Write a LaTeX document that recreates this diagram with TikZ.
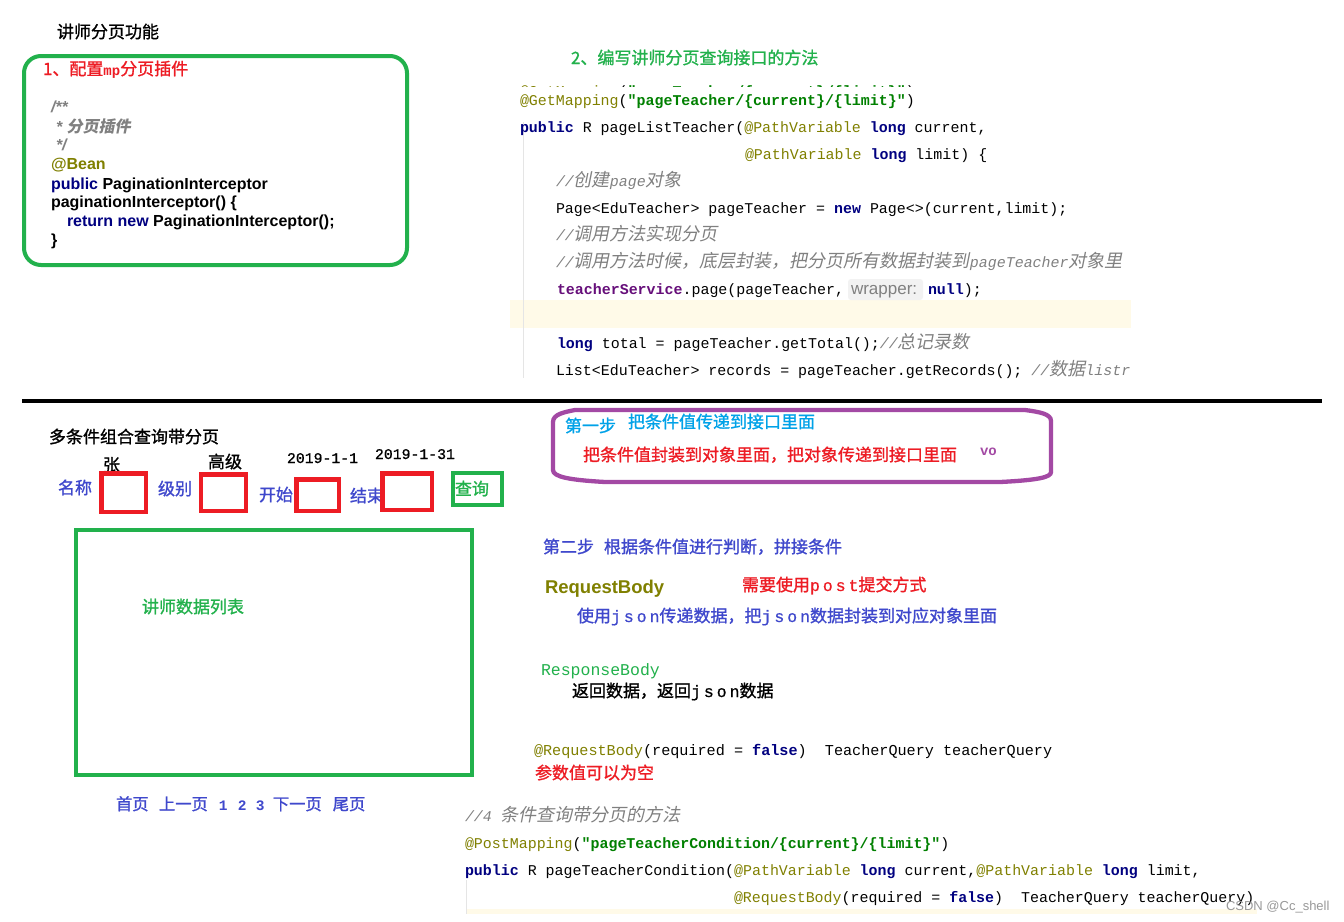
\documentclass[tikz,border=0pt]{standalone}
\usepackage{fontspec}
\setmainfont{Liberation Sans}
\setmonofont{Liberation Mono}
\newfontfamily\cj[FakeBold=1.2]{Noto Sans CJK SC}
\newfontfamily\cji[FakeSlant=0.2]{Noto Sans CJK SC}
\newfontfamily\lmf[LetterSpace=18,FakeBold=0.8]{Liberation Mono}
\definecolor{cgreen}{HTML}{22B14C}
\definecolor{cred}{HTML}{ED1C24}
\definecolor{cpurple}{HTML}{A349A4}
\definecolor{cblue}{HTML}{3F48CC}
\definecolor{ccyan}{HTML}{00A2E8}
\definecolor{colive}{HTML}{808000}
\definecolor{cnavy}{HTML}{000080}
\definecolor{cstr}{HTML}{008000}
\definecolor{cgray}{HTML}{808080}
\definecolor{cmem}{HTML}{660E7A}
\definecolor{cyel}{HTML}{FFFAE8}
\newcommand\fz[1]{\fontsize{#1}{#1}\selectfont}
\newcommand\kw[1]{{\bfseries\color{cnavy}#1}}
\newcommand\ann[1]{{\color{colive}#1}}
\newcommand\strg[1]{{\bfseries\color{cstr}#1}}
\newcommand\cmt[1]{{\color{cgray}\itshape #1}}
\newcommand\ccm[1]{{\cji\fz{18}\color{cgray}#1}}
\newcommand\lm[1]{{\lmf\fz{16.5}#1}}
\newcommand\dg[1]{{\ttfamily\bfseries\fz{14.5}#1}}
\tikzset{
  tx/.style={anchor=base west,inner sep=0pt,outer sep=0pt},
  lab/.style={tx,font=\cj\fz{17}},
  code/.style={tx,font=\ttfamily\fz{14.95}},
  jv/.style={tx,font=\bfseries\fz{16}},
  redbox/.style={draw=cred,line width=4.5pt},
  grnbox/.style={draw=cgreen,line width=4pt}
}
\begin{document}
\begin{tikzpicture}[x=1pt,y=1pt]
\useasboundingbox (0,0) rectangle (1344,-921);
\fill[white] (0,0) rectangle (1344,-921);
% top left
\node[lab] (title1) at (57,-38) {讲师分页功能};
\draw[grnbox,rounded corners=17pt] (24,-56) rectangle (407,-265);
\node[lab,text=cred] (step1) at (43,-75) {1、配置{\ttfamily\bfseries\fz{14}mp}分页插件};
\node[jv,text=cgray,font=\itshape\bfseries\fz{16}] (c1) at (51,-112) {/**};
\node[tx,text=cgray,font=\itshape\bfseries\fz{16}] (c2) at (56,-132) {* {\cji\bfseries\fz{16}分页插件}};
\node[jv,text=cgray,font=\itshape\bfseries\fz{16}] (c3) at (56,-150) {*/};
\node[jv,text=colive] (c4) at (51,-169) {@Bean};
\node[jv] (c5) at (51,-189) {{\color{cnavy}public} PaginationInterceptor};
\node[jv] (c6) at (51,-207) {paginationInterceptor() \{};
\node[jv] (c7) at (67,-226) {{\color{cnavy}return new} PaginationInterceptor();};
\node[jv] (c8) at (51,-245) {\}};
% top right
\node[lab,text=cgreen] (step2) at (571,-64) {2、编写讲师分页查询接口的方法};
\fill[cyel] (510,-300) rectangle (1131,-328);
\draw[black!10,line width=.7pt] (523,-122) -- (523,-378);
\fill[black!5,rounded corners=3pt] (848,-279) rectangle (923,-300);
\begin{scope}
\clip (510,-80) rectangle (1131,-86);
\node[code] (g0) at (520,-96) {\ann{@GetMapping}(\strg{"pageTeacher/\{current\}/\{limit\}"})};
\end{scope}
\begin{scope}
\clip (510,-88) rectangle (1131,-378);
\node[code] (g1) at (520,-105) {\ann{@GetMapping}(\strg{"pageTeacher/\{current\}/\{limit\}"})};
\node[code] (g2) at (520,-132) {\kw{public} R pageListTeacher(\ann{@PathVariable} \kw{long} current,};
\node[code] (g3) at (745,-159) {\ann{@PathVariable} \kw{long} limit) \{};
\node[code] (g4) at (556,-186) {\cmt{//}\ccm{创建}\cmt{page}\ccm{对象}};
\node[code] (g5) at (556,-213) {Page<EduTeacher> pageTeacher = \kw{new} Page<>(current,limit);};
\node[code] (g6) at (556,-240) {\cmt{//}\ccm{调用方法实现分页}};
\node[code] (g7) at (556,-267) {\cmt{//}\ccm{调用方法时候，底层封装，把分页所有数据封装到}\cmt{pageTeacher}\ccm{对象里}};
\node[code] (g8) at (557,-294) {{\bfseries\color{cmem}teacherService}.page(pageTeacher,};
\node[tx,text=cgray,font=\fz{17}] (g8h) at (851,-294) {wrapper:};
\node[code] (g8b) at (928,-294) {\kw{null});};
\node[code] (g9) at (557,-348) {\kw{long} total = pageTeacher.getTotal();\cmt{//}\ccm{总记录数}};
\node[code] (g10) at (556,-375) {List<EduTeacher> records = pageTeacher.getRecords(); \cmt{//}\ccm{数据}\cmt{listr}};
\end{scope}
% divider
\draw[black,line width=4pt] (22,-401) -- (1322,-401);
% form
\node[lab] (title2) at (49,-443) {多条件组合查询带分页};
\node[lab,text=cblue] (l1) at (58,-494) {名称};
\node[lab,text=cblue] (l2) at (158,-495) {级别};
\node[lab,text=cblue] (l3) at (259,-501) {开始};
\node[lab,text=cblue] (l4) at (350,-502) {结束};
\node[lab] (v1) at (103,-471) {张};
\node[lab] (v2) at (208,-468) {高级};
\node[code,font=\lmf\addfontfeature{LetterSpace=0}\fz{14.8}] (v3) at (287,-463) {2019-1-1};
\node[code,font=\lmf\addfontfeature{LetterSpace=0}\fz{14.8}] (v4) at (375,-459) {2019-1-31};
\draw[redbox] (101.5,-473.5) rectangle (146,-512);
\draw[redbox] (201,-474.5) rectangle (246,-511);
\draw[redbox] (296.5,-479.5) rectangle (339,-511);
\draw[redbox] (382.5,-473.5) rectangle (432,-510);
\draw[grnbox] (453,-472.5) rectangle (502,-505);
\node[lab,text=cgreen] (q) at (455,-495) {查询};
\draw[grnbox] (76,-529.5) rectangle (472,-774.5);
\node[lab,text=cgreen] (list) at (142,-613) {讲师数据列表};
\node[lab,text=cblue,font=\cj\fz{16.3}] (pg) at (116,-810) {首页\hspace{10.4pt}上一页\hspace{11pt}\dg{1}\hspace{10.3pt}\dg{2}\hspace{9.3pt}\dg{3}\hspace{8.3pt}下一页\hspace{11pt}尾页};
% step one
\draw[cpurple,line width=4.3pt] (575,-410) -- (1025,-410) .. controls (1040,-412) and (1051,-414) .. (1051,-421) -- (1051,-472) .. controls (1051,-477) and (1040,-480) .. (1000,-482) -- (605,-482) .. controls (570,-480) and (553,-477) .. (553,-470) -- (553,-422) .. controls (553,-414) and (565,-412) .. (575,-410) -- cycle;
\node[lab,text=ccyan] (s1a) at (565,-432) {第一步};
\node[lab,text=ccyan] (s1b) at (628,-428) {把条件值传递到接口里面};
\node[lab,text=cred] (s1c) at (583,-461) {把条件值封装到对象里面，把对象传递到接口里面};
\node[tx,text=cpurple,font=\ttfamily\bfseries\fz{14}] (vo) at (980,-455) {vo};
% step two
\node[lab,text=cblue] (s2) at (543,-553) {第二步\hspace{10pt}根据条件值进行判断，拼接条件};
\node[tx,text=colive,font=\bfseries\fz{18.5}] (rb) at (545,-593) {RequestBody};
\node[lab,text=cred] (rb2) at (742,-591) {需要使用\lm{post}提交方式};
\node[lab,text=cblue] (rb3) at (577,-622) {使用\lm{json}传递数据，把\lm{json}数据封装到对应对象里面};
\node[tx,text=cgreen,font=\ttfamily\fz{16.5}] (rs) at (541,-675) {ResponseBody};
\node[lab] (rs2) at (572,-697) {返回数据，返回\lm{json}数据};
\node[code,font=\ttfamily\fz{15.15}] (a1) at (534,-755) {\ann{@RequestBody}(required = \kw{false})~~TeacherQuery teacherQuery};
\node[lab,text=cred] (a2) at (535,-779) {参数值可以为空};
% bottom code
\fill[cyel] (467,-909) rectangle (1257,-914);
\draw[black!10,line width=.7pt] (466,-880) -- (466,-914);
\node[code] (b0) at (465,-821) {\cmt{//4 }\ccm{条件查询带分页的方法}};
\node[code] (b1) at (465,-848) {\ann{@PostMapping}(\strg{"pageTeacherCondition/\{current\}/\{limit\}"})};
\node[code] (b2) at (465,-875) {\kw{public} R pageTeacherCondition(\ann{@PathVariable} \kw{long} current,\ann{@PathVariable} \kw{long} limit,};
\node[code] (b3) at (734,-902) {\ann{@RequestBody}(required = \kw{false})~~TeacherQuery teacherQuery)};
\node[tx,text=black!40,font=\fz{13}] (wm) at (1226,-910) {CSDN @Cc\_shell};
\end{tikzpicture}
\end{document}
